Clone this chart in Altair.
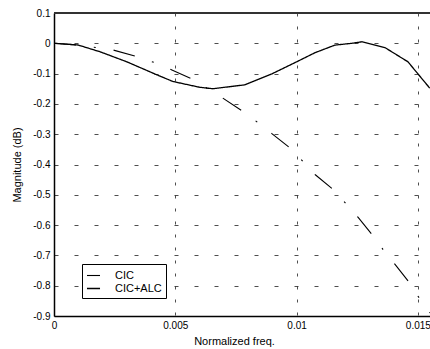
import altair as alt
import pandas as pd

# Series
freq_cic = [0.0, 0.00099, 0.00243, 0.00334, 0.00416, 0.00486, 0.00569, 0.00696,
            0.00779, 0.00841, 0.00898, 0.00977, 0.01026, 0.01076, 0.01150, 0.01199,
            0.01253, 0.01310, 0.01356, 0.01405, 0.01463, 0.01500, 0.01549]
mag_cic = [0.0, -0.0056, -0.022, -0.042, -0.064, -0.088, -0.118, -0.181,
           -0.225, -0.262, -0.298, -0.348, -0.390, -0.433, -0.482, -0.525,
           -0.574, -0.630, -0.680, -0.729, -0.788, -0.834, -0.890]

freq_alc = [0.0, 0.00099, 0.0019, 0.0030, 0.00424, 0.0049, 0.0060, 0.00655,
            0.00787, 0.00898, 0.00993, 0.01076, 0.01158, 0.01228, 0.01269,
            0.01364, 0.01459, 0.01549]
mag_alc = [0.0, -0.0056, -0.028, -0.061, -0.104, -0.126, -0.145, -0.150,
           -0.137, -0.101, -0.064, -0.031, -0.006, 0.0, 0.005,
           -0.014, -0.061, -0.148]

series_names = ["CIC", "CIC+ALC"]
x_ticks = [0, 0.005, 0.01, 0.015]
y_ticks = [0.1, 0, -0.1, -0.2, -0.3, -0.4, -0.5, -0.6, -0.7, -0.8, -0.9]

df = pd.concat([
    pd.DataFrame({"freq": freq_cic, "mag": mag_cic, "series": series_names[0]}),
    pd.DataFrame({"freq": freq_alc, "mag": mag_alc, "series": series_names[1]}),
])

FONT = "Liberation Sans"

x_enc = alt.X("freq:Q",
              scale=alt.Scale(domain=[0, 0.0155], nice=False, zero=False),
              axis=alt.Axis(values=x_ticks, tickCount=len(x_ticks) + 2,
                            title="Normalized freq.",
                            labelExpr="toString(datum.value)",
                            grid=True, gridDash=[3, 10], gridColor="#222",
                            gridOpacity=0.8,
                            ticks=False, labelPadding=4, titlePadding=5,
                            domainColor="black", domainWidth=1.5,
                            labelFlush=False, labelOverlap=False,
                            titleFontWeight="normal", titleFont=FONT,
                            titleFontSize=11, titleX=180))
y_enc = alt.Y("mag:Q",
              scale=alt.Scale(domain=[-0.9, 0.1], nice=False, zero=False),
              axis=alt.Axis(values=y_ticks, tickCount=len(y_ticks) + 2,
                            title="Magnitude (dB)",
                            labelExpr="datum.value == 0 ? '0' : toString(round(datum.value*10)/10)",
                            grid=True, gridDash=[4, 16], gridColor="#222",
                            gridOpacity=0.8,
                            ticks=False, labelPadding=4, titlePadding=10,
                            domainColor="black", domainWidth=1.5,
                            labelOverlap=False, labelFlush=False,
                            titleFontWeight="normal", titleFont=FONT,
                            titleFontSize=11))

lines = alt.Chart(df).mark_line(clip=True, color="black").encode(
    x=x_enc,
    y=y_enc,
    strokeDash=alt.StrokeDash("series:N",
                              scale=alt.Scale(domain=series_names,
                                              range=[[22, 18, 2, 18], [1, 0]]),
                              legend=alt.Legend(title=None, orient="none",
                                                legendX=28, legendY=251,
                                                symbolType="stroke",
                                                symbolSize=170,
                                                symbolStrokeColor="black",
                                                symbolStrokeWidth=1.2,
                                                labelFont=FONT, labelFontSize=11,
                                                labelColor="black",
                                                labelOffset=14,
                                                rowPadding=0,
                                                padding=4,
                                                fillColor="white",
                                                strokeColor="black",
                                                cornerRadius=0)),
    strokeWidth=alt.StrokeWidth("series:N",
                                scale=alt.Scale(domain=series_names, range=[1.1, 1.3]),
                                legend=None),
)

top_border = alt.Chart(df).mark_rule(color="#333", strokeWidth=1.5).encode(
    y=alt.datum(0.1)
)

chart = alt.layer(lines, top_border).properties(
    width=376, height=303,
    autosize=alt.AutoSizeParams(type="none"),
    padding={"left": 54, "top": 13, "right": 0, "bottom": 33},
).configure_view(stroke=None).configure_axis(
    labelFont=FONT, labelFontSize=11, labelColor="black",
    titleFont=FONT, titleFontSize=11, titleColor="black", titleFontWeight="normal",
).configure(background="white")

chart.save("out.html", embed_options={"renderer": "svg", "actions": False})
